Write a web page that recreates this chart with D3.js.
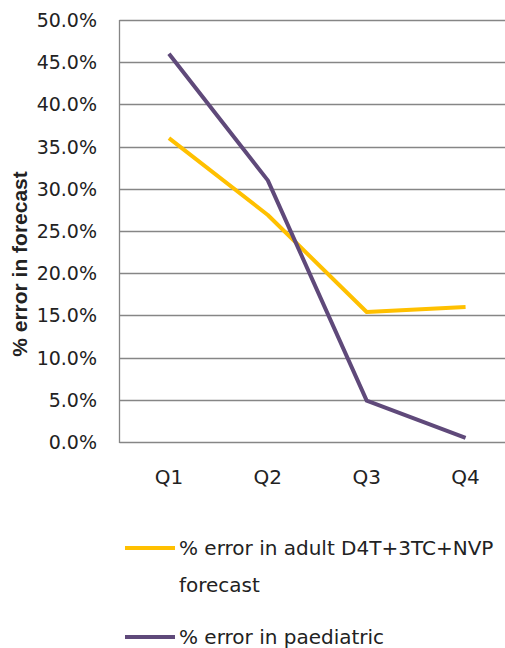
<!DOCTYPE html>
<html>
<head>
<meta charset="utf-8">
<script src="https://cdn.jsdelivr.net/npm/d3@7"></script>
<style>
  body { margin: 0; background: #fff; }
  svg { display: block; font-family: "DejaVu Sans", "Liberation Sans", Arial, sans-serif; }
</style>
</head>
<body>
<svg id="chart" width="505" height="648"></svg>
<script>
const quarters = ["Q1", "Q2", "Q3", "Q4"];
const adult = [0.360, 0.269, 0.154, 0.160];
const paediatric = [0.460, 0.310, 0.049, 0.005];
const yTicks = [0, 0.05, 0.10, 0.15, 0.20, 0.25, 0.30, 0.35, 0.40, 0.45, 0.50];
const seriesNames = [
  ["% error in adult D4T+3TC+NVP", "forecast"],
  ["% error in paediatric"]
];
const colors = ["#FFC000", "#5F497A"];

const svg = d3.select("#chart");
const plotLeft = 119.5, plotTop = 20, plotBottom = 442, plotRight = 515;

const x = d3.scaleBand().domain(quarters).range([plotLeft, plotRight]);
const y = d3.scaleLinear().domain([0, 0.5]).range([plotBottom, plotTop]);
const fmt = d3.format(".1%");

// gridlines
svg.append("g")
  .selectAll("line")
  .data(yTicks)
  .join("line")
  .attr("x1", plotLeft).attr("x2", plotRight)
  .attr("y1", d => Math.round(y(d)) + 0.5).attr("y2", d => Math.round(y(d)) + 0.5)
  .attr("stroke", "#868686")
  .attr("stroke-width", 1.3);

// left axis line
svg.append("line")
  .attr("x1", plotLeft).attr("x2", plotLeft)
  .attr("y1", y(0.5)).attr("y2", y(0) + 1)
  .attr("stroke", "#868686").attr("stroke-width", 1.3);

// y labels
svg.append("g")
  .selectAll("text")
  .data(yTicks)
  .join("text")
  .attr("x", 97)
  .attr("y", d => y(d) + 7)
  .attr("text-anchor", "end")
  .attr("font-size", 19)
  .attr("fill", "#222")
  .text(d => fmt(d));

// x labels
svg.append("g")
  .selectAll("text")
  .data(quarters)
  .join("text")
  .attr("x", d => x(d) + x.bandwidth() / 2)
  .attr("y", 484)
  .attr("text-anchor", "middle")
  .attr("font-size", 20)
  .attr("fill", "#222")
  .text(d => d);

// y title
svg.append("text")
  .attr("transform", "translate(27,264) rotate(-90)")
  .attr("text-anchor", "middle")
  .attr("font-family", "Liberation Sans, Arial, sans-serif")
  .attr("font-size", 21)
  .attr("font-weight", "bold")
  .attr("fill", "#222")
  .text("% error in forecast");

// lines
const line = d3.line()
  .x((d, i) => x(quarters[i]) + x.bandwidth() / 2)
  .y(d => y(d));

[adult, paediatric].forEach((s, i) => {
  svg.append("path")
    .datum(s)
    .attr("d", line)
    .attr("fill", "none")
    .attr("stroke", colors[i])
    .attr("stroke-width", 4)
    .attr("stroke-linejoin", "round");
});

// legend
const legendY = [548, 637];
seriesNames.forEach((name, i) => {
  svg.append("line")
    .attr("x1", 125).attr("x2", 175)
    .attr("y1", legendY[i]).attr("y2", legendY[i])
    .attr("stroke", colors[i]).attr("stroke-width", 4);
  const t = svg.append("text")
    .attr("x", 179)
    .attr("y", legendY[i] + 7)
    .attr("font-size", 20)
    .attr("fill", "#222");
  name.forEach((part, j) => {
    t.append("tspan").attr("x", 179).attr("dy", j === 0 ? 0 : 37).text(part);
  });
});
</script>
</body>
</html>
